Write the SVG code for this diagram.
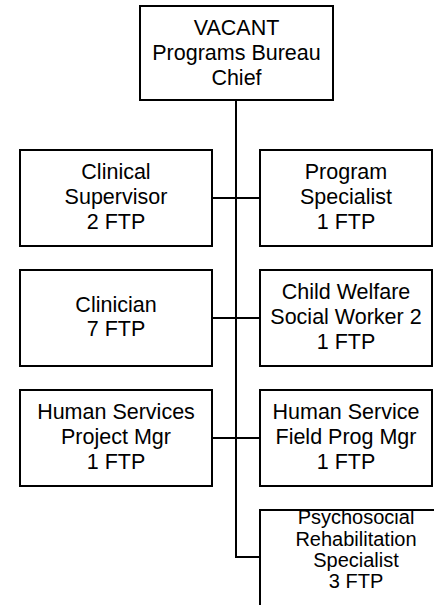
<svg xmlns="http://www.w3.org/2000/svg" width="434" height="605" viewBox="0 0 434 605">
<style>
.box{fill:#fff;stroke:#000;stroke-width:2}
.lbl{font-family:"Liberation Sans",Arial,sans-serif;font-size:21.5px;fill:#000;text-anchor:middle}
.sm{font-size:20px}
.con{fill:none;stroke:#000;stroke-width:2}
</style>
<rect width="434" height="605" fill="#fff"/>
<g id="connectors">
<path class="con" d="M236,100 V557 H260"/>
<path class="con" d="M212,198 H260"/>
<path class="con" d="M212,318 H260"/>
<path class="con" d="M212,438 H260"/>
</g>
<g id="chief">
<rect class="box" x="140" y="6" width="193" height="94"/>
<text class="lbl" x="236.5" y="35">VACANT</text>
<text class="lbl" x="236.5" y="60">Programs Bureau</text>
<text class="lbl" x="236.5" y="85">Chief</text>
</g>
<g id="clinical-supervisor">
<rect class="box" x="20" y="150" width="192" height="96"/>
<text class="lbl" x="116" y="179">Clinical</text>
<text class="lbl" x="116" y="204">Supervisor</text>
<text class="lbl" x="116" y="229">2 FTP</text>
</g>
<g id="program-specialist">
<rect class="box" x="260" y="150" width="172" height="96"/>
<text class="lbl" x="346" y="179">Program</text>
<text class="lbl" x="346" y="204">Specialist</text>
<text class="lbl" x="346" y="229">1 FTP</text>
</g>
<g id="clinician">
<rect class="box" x="20" y="270" width="192" height="96"/>
<text class="lbl" x="116" y="312">Clinician</text>
<text class="lbl" x="116" y="336">7 FTP</text>
</g>
<g id="child-welfare">
<rect class="box" x="260" y="270" width="172" height="96"/>
<text class="lbl" x="346" y="299">Child Welfare</text>
<text class="lbl" x="346" y="324">Social Worker 2</text>
<text class="lbl" x="346" y="349">1 FTP</text>
</g>
<g id="human-services-project-mgr">
<rect class="box" x="20" y="390" width="192" height="96"/>
<text class="lbl" x="116" y="419">Human Services</text>
<text class="lbl" x="116" y="444">Project Mgr</text>
<text class="lbl" x="116" y="469">1 FTP</text>
</g>
<g id="human-service-field-prog-mgr">
<rect class="box" x="260" y="390" width="172" height="96"/>
<text class="lbl" x="346" y="419">Human Service</text>
<text class="lbl" x="346" y="444">Field Prog Mgr</text>
<text class="lbl" x="346" y="469">1 FTP</text>
</g>
<g id="psychosocial">
<rect class="box" x="260" y="510" width="192" height="110"/>
<text class="lbl sm" x="356" y="524">Psychosocial</text>
<text class="lbl sm" x="356" y="545.5">Rehabilitation</text>
<text class="lbl sm" x="356" y="567">Specialist</text>
<text class="lbl sm" x="356" y="588">3 FTP</text>
</g>
</svg>
